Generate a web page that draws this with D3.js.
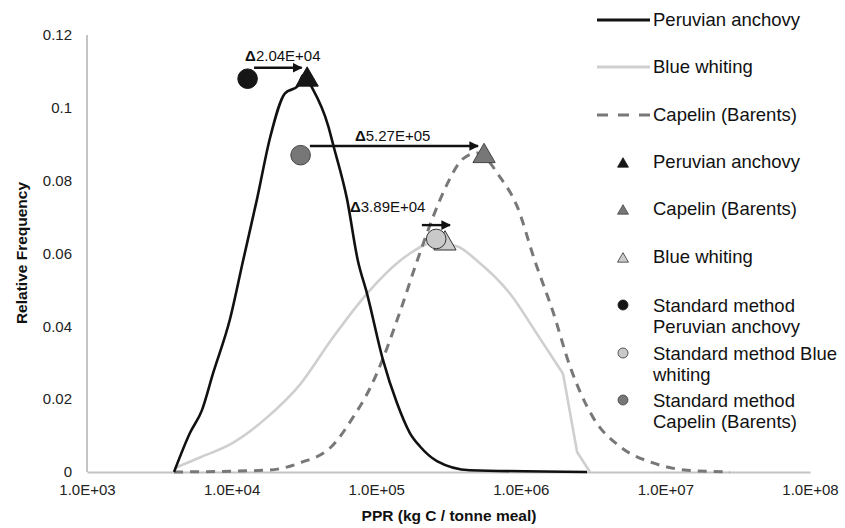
<!DOCTYPE html>
<html>
<head>
<meta charset="utf-8">
<script src="https://cdn.jsdelivr.net/npm/d3@7"></script>
<style>
  html, body { margin: 0; padding: 0; background: #fff; }
  svg { display: block; font-family: "Liberation Sans", Arial, Helvetica, sans-serif; }
</style>
</head>
<body>
<svg id="chart" width="845" height="528"></svg>
<script>
// ---------- data ----------
const seriesNames = ["Peruvian anchovy", "Blue whiting", "Capelin (Barents)"];

const anchovyPPR  = [4.0e3, 5.15e3, 6.24e3, 7.43e3, 9.75e3, 1.2e4, 1.5e4, 1.85e4, 2.34e4, 2.88e4, 3.12e4, 3.66e4, 4.66e4, 5.03e4, 6.28e4, 7.47e4, 8.64e4, 1.11e5, 1.39e5, 1.71e5, 2.01e5, 2.63e5, 4.45e5, 2.87e6];
const anchovyFreq = [0, 0.0107, 0.017, 0.027, 0.042, 0.058, 0.075, 0.092, 0.104, 0.106, 0.109, 0.105, 0.095, 0.090, 0.075, 0.058, 0.049, 0.031, 0.019, 0.0107, 0.007, 0.003, 0.0005, 0];

const whitingPPR  = [4.0e3, 6.04e3, 1.02e4, 1.76e4, 2.97e4, 5.03e4, 8.64e4, 1.46e5, 1.71e5, 2.47e5, 3.62e5, 4.98e5, 8.41e5, 1.29e6, 1.96e6, 2.45e6, 3.01e6];
const whitingFreq = [0.001, 0.004, 0.008, 0.015, 0.024, 0.037, 0.049, 0.058, 0.060, 0.063, 0.062, 0.058, 0.049, 0.038, 0.027, 0.0055, 0];

const capelinPPR  = [4.0e3, 1.76e4, 2.97e4, 5.03e4, 6.91e4, 9.06e4, 1.11e5, 1.46e5, 1.92e5, 2.47e5, 3.09e5, 3.98e5, 4.98e5, 7.18e5, 9.42e5, 1.25e6, 1.67e6, 2.19e6, 3.16e6, 4.85e6, 8.21e6, 1.41e7, 2.80e7];
const capelinFreq = [0, 0.0005, 0.0025, 0.0074, 0.015, 0.023, 0.031, 0.044, 0.058, 0.070, 0.079, 0.086, 0.0876, 0.081, 0.073, 0.058, 0.044, 0.029, 0.015, 0.007, 0.0025, 0.0005, 0];

// triangles (new method peaks), order: anchovy, capelin, whiting
const triangleNames = ["Peruvian anchovy", "Capelin (Barents)", "Blue whiting"];
const trianglePPR   = [3.33e4, 5.57e5, 2.99e5];
const triangleFreq  = [0.108, 0.087, 0.063];

// circles (standard method), order: anchovy, whiting, capelin
const circleNames = ["Standard method Peruvian anchovy", "Standard method Blue whiting", "Standard method Capelin (Barents)"];
const circlePPR   = [1.29e4, 2.6e5, 3.0e4];
const circleFreq  = [0.108, 0.064, 0.087];

// difference arrows
const arrowLabels = ["2.04E+04", "5.27E+05", "3.89E+04"];
const arrowFrom   = [1.43e4, 3.48e4, 2.07e5];
const arrowTo     = [3.05e4, 5.06e5, 3.24e5];
const arrowFreq   = [0.111, 0.0895, 0.0678];
const labelPPR    = [1.24e4, 7.13e4, 6.59e4];
const labelFreq   = [0.1128, 0.0910, 0.0715];

const xTicks = [1e3, 1e4, 1e5, 1e6, 1e7, 1e8];
const xTickLabels = ["1.0E+03", "1.0E+04", "1.0E+05", "1.0E+06", "1.0E+07", "1.0E+08"];
const yTicks = [0, 0.02, 0.04, 0.06, 0.08, 0.1, 0.12];
const yTickLabels = ["0", "0.02", "0.04", "0.06", "0.08", "0.1", "0.12"];

// ---------- chart ----------
const svg = d3.select("#chart");
const x = d3.scaleLog().domain([1e3, 1e8]).range([87, 810]);
const y = d3.scaleLinear().domain([0, 0.12]).range([472, 35]);

const axisColor = "#c4c4c4";
const cAnchovy = "#111111", cWhiting = "#cfcfcf", cCapelin = "#787878";

// axes lines
svg.append("line").attr("x1", x(1e3)).attr("x2", x(1e3)).attr("y1", y(0.12)).attr("y2", y(0))
  .attr("stroke", axisColor).attr("stroke-width", 2);

const xAxis = d3.axisBottom(x).tickValues(xTicks).tickFormat((d, i) => xTickLabels[i]).tickSize(0).tickPadding(12);
const gx = svg.append("g").attr("transform", `translate(0,${y(0)})`).call(xAxis);
gx.select(".domain").attr("stroke", axisColor).attr("stroke-width", 2);
gx.selectAll("text").attr("font-size", 15).attr("fill", "#222").attr("font-family", "Liberation Sans, Arial, sans-serif");

const yAxis = d3.axisLeft(y).tickValues(yTicks).tickFormat((d, i) => yTickLabels[i]).tickSize(0).tickPadding(15);
const gy = svg.append("g").attr("transform", `translate(${x(1e3)},0)`).call(yAxis);
gy.select(".domain").remove();
gy.selectAll("text").attr("font-size", 15).attr("fill", "#222").attr("font-family", "Liberation Sans, Arial, sans-serif");

// axis titles
svg.append("text").attr("x", 449).attr("y", 521).attr("text-anchor", "middle")
  .attr("font-size", 15.5).attr("font-weight", "bold").attr("fill", "#111").text("PPR (kg C / tonne meal)");
svg.append("text").attr("transform", "translate(27,253) rotate(-90)").attr("text-anchor", "middle")
  .attr("font-size", 15.5).attr("font-weight", "bold").attr("fill", "#111").text("Relative Frequency");

// lines
const smooth = d3.line().x(d => x(d[0])).y(d => y(d[1])).curve(d3.curveMonotoneX);
const straight = d3.line().x(d => x(d[0])).y(d => y(d[1])).curve(d3.curveLinear);
const mk = (xs, ys) => xs.map((v, i) => [v, ys[i]]);

// blue whiting: smooth body, sharp drop at the upper tail
const whitingData = mk(whitingPPR, whitingFreq);
const kinkIdx = whitingPPR.indexOf(1.96e6);
svg.append("path").datum(whitingData.slice(0, kinkIdx + 1)).attr("d", smooth)
  .attr("fill", "none").attr("stroke", cWhiting).attr("stroke-width", 2.6).attr("stroke-linejoin", "round");
svg.append("path").datum(whitingData.slice(kinkIdx)).attr("d", straight)
  .attr("fill", "none").attr("stroke", cWhiting).attr("stroke-width", 2.6).attr("stroke-linejoin", "round");

svg.append("path").datum(mk(capelinPPR, capelinFreq)).attr("d", smooth)
  .attr("fill", "none").attr("stroke", cCapelin).attr("stroke-width", 3).attr("stroke-dasharray", "9,7");
svg.append("path").datum(mk(anchovyPPR, anchovyFreq)).attr("d", smooth)
  .attr("fill", "none").attr("stroke", cAnchovy).attr("stroke-width", 2.6).attr("stroke-linejoin", "round");

// triangles
const triFill = ["#161616", "#777777", "#cccccc"];
const triStroke = ["#161616", "#444444", "#333333"];
const tri = d3.symbol().type(d3.symbolTriangle).size(215);
triangleNames.forEach((n, i) => {
  svg.append("path").attr("d", tri)
    .attr("transform", `translate(${x(trianglePPR[i])},${y(triangleFreq[i]) + 1})`)
    .attr("fill", triFill[i]).attr("stroke", triStroke[i]).attr("stroke-width", 1);
});

// circles
const circFill = ["#161616", "#c9c9c9", "#777777"];
const circStroke = ["#161616", "#333333", "#444444"];
circleNames.forEach((n, i) => {
  svg.append("circle").attr("cx", x(circlePPR[i])).attr("cy", y(circleFreq[i])).attr("r", 9.8)
    .attr("fill", circFill[i]).attr("stroke", circStroke[i]).attr("stroke-width", 1);
});

// arrows
svg.append("defs").append("marker").attr("id", "arrowhead")
  .attr("viewBox", "0 0 10 10").attr("refX", 9).attr("refY", 5)
  .attr("markerWidth", 4).attr("markerHeight", 4).attr("markerUnits", "strokeWidth")
  .attr("orient", "auto")
  .append("path").attr("d", "M0,0 L10,5 L0,10 Z").attr("fill", "#111");

arrowLabels.forEach((lab, i) => {
  svg.append("line").attr("x1", x(arrowFrom[i])).attr("x2", x(arrowTo[i]))
    .attr("y1", y(arrowFreq[i])).attr("y2", y(arrowFreq[i]))
    .attr("stroke", "#111").attr("stroke-width", 2.4).attr("marker-end", "url(#arrowhead)");
  const t = svg.append("text").attr("x", x(labelPPR[i])).attr("y", y(labelFreq[i]))
    .attr("font-size", 15).attr("fill", "#111");
  t.append("tspan").attr("font-weight", "bold").text("Δ");
  t.append("tspan").text(lab);
});

// legend
const lgX = 597, lgTextX = 653, lgFont = 18.5;
const legendLines = [
  {name: seriesNames[0], y: 20, color: cAnchovy, dash: null, w: 3},
  {name: seriesNames[1], y: 67, color: cWhiting, dash: null, w: 3},
  {name: seriesNames[2], y: 115, color: cCapelin, dash: "11,10", w: 3}
];
legendLines.forEach(d => {
  svg.append("line").attr("x1", lgX).attr("x2", lgX + 53).attr("y1", d.y).attr("y2", d.y)
    .attr("stroke", d.color).attr("stroke-width", d.w).attr("stroke-dasharray", d.dash);
  svg.append("text").attr("x", lgTextX).attr("y", d.y + 6).attr("font-size", lgFont).attr("fill", "#111").text(d.name);
});

const legTriY = [164, 211, 259];
const smallTri = d3.symbol().type(d3.symbolTriangle).size(52);
triangleNames.forEach((n, i) => {
  svg.append("path").attr("d", smallTri).attr("transform", `translate(623,${legTriY[i]})`)
    .attr("fill", triFill[i]).attr("stroke", triStroke[i]).attr("stroke-width", 0.8);
  svg.append("text").attr("x", lgTextX).attr("y", legTriY[i] + 4).attr("font-size", lgFont).attr("fill", "#111").text(n);
});

const legCircY = [305, 353, 400];
const circLines = [["Standard method", "Peruvian anchovy"], ["Standard method Blue", "whiting"], ["Standard method", "Capelin (Barents)"]];
circleNames.forEach((n, i) => {
  svg.append("circle").attr("cx", 623).attr("cy", legCircY[i]).attr("r", 5)
    .attr("fill", circFill[i]).attr("stroke", circStroke[i]).attr("stroke-width", 0.8);
  const t = svg.append("text").attr("x", lgTextX).attr("y", legCircY[i] + 7).attr("font-size", lgFont).attr("fill", "#111");
  circLines[i].forEach((s, j) => {
    t.append("tspan").attr("x", lgTextX).attr("dy", j === 0 ? 0 : 21).text(s);
  });
});
</script>
</body>
</html>
